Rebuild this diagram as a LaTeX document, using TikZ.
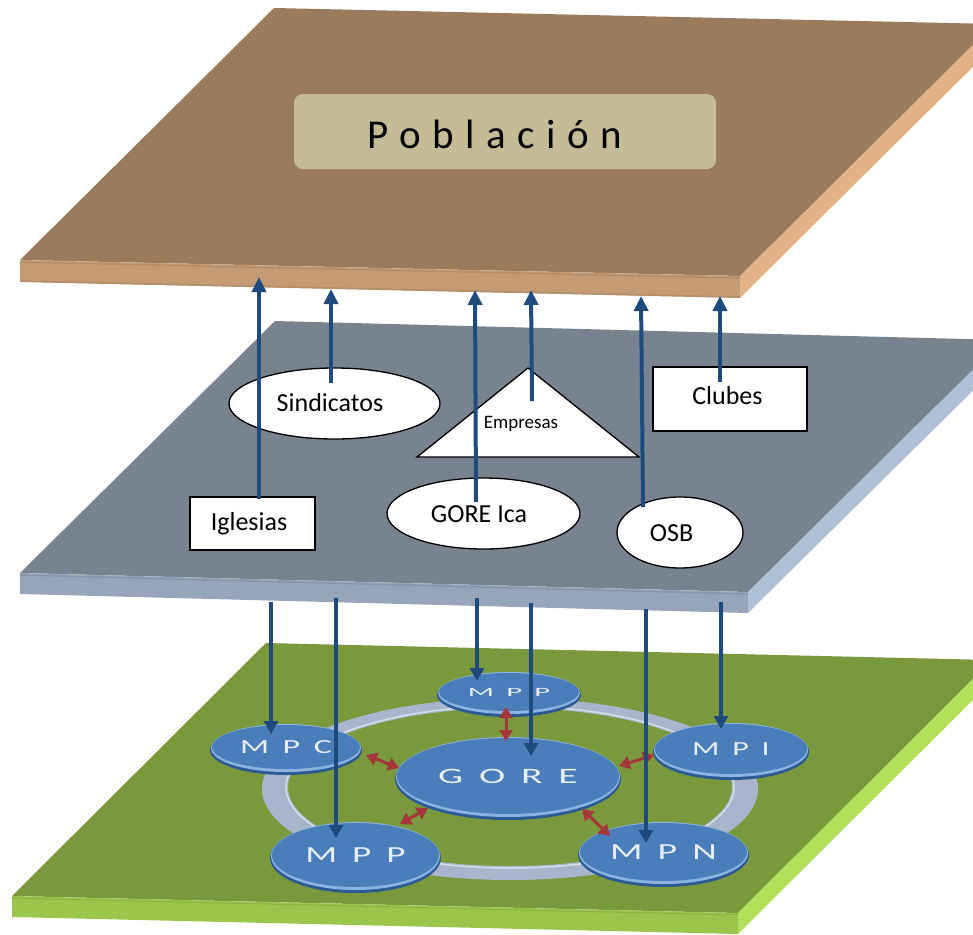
\documentclass[tikz,border=0pt]{standalone}
\usepackage{fontspec}
\usepackage{graphicx}
\setmainfont{Carlito}
\usetikzlibrary{shapes.geometric,arrows.meta}
\definecolor{brTop}{HTML}{9A7B5C}
\definecolor{brFront}{HTML}{C49B73}
\definecolor{brLine}{HTML}{B58D68}
\definecolor{brSide}{HTML}{E1B386}
\definecolor{poblFill}{HTML}{C4BC96}
\definecolor{slTop}{HTML}{77838F}
\definecolor{slFront}{HTML}{96A5BA}
\definecolor{slLine}{HTML}{8797AB}
\definecolor{slSide}{HTML}{AEBFD6}
\definecolor{grTop}{HTML}{7A993D}
\definecolor{grFront}{HTML}{9CC54C}
\definecolor{grLine}{HTML}{8DB545}
\definecolor{grSide}{HTML}{B1E05A}
\definecolor{ringCol}{HTML}{A8B5CD}
\definecolor{diskTop}{HTML}{4A7EBB}
\definecolor{diskRim}{HTML}{2C5A92}
\definecolor{diskHi}{HTML}{8DB3E2}
\definecolor{diskTxt}{HTML}{E8EDF4}
\definecolor{arrBlue}{HTML}{1F4A7E}
\definecolor{arrRed}{HTML}{A5363A}

\tikzset{
  disknode/.style={ellipse, fill=diskTop, inner sep=0pt, text=diskTxt},
  labelbox/.style={draw=black, line width=1.3pt, fill=white, inner sep=0pt, font=\fontsize{26}{26}\selectfont},
  labelell/.style={ellipse, draw=black, line width=1.3pt, fill=white, inner sep=0pt},
  labeltext/.style={font=\fontsize{26}{26}\selectfont, inner sep=0pt},
  uparr/.style={draw=arrBlue, line width=4pt, -{Triangle[length=15pt,width=14pt]}},
  downarr/.style={draw=arrBlue, line width=3.5pt, -{Triangle[length=13pt,width=14pt]}},
  redarr/.style={draw=arrRed, line width=3pt, {Triangle[length=11pt,width=13pt]}-{Triangle[length=11pt,width=13pt]}}
}

% #1 name, #2 x, #3 y, #4 rx, #5 ry, #6 text, #7 font size, #8 xscale, #9 yscale
\newcommand\diskdraw[9]{%
  \fill[diskRim] (#2,#3) ellipse [x radius=#4, y radius=#5];
  \fill[diskHi] (#2,#3-2) ellipse [x radius=#4-1, y radius=#5-1];
  \node[disknode, minimum width={(2*#4-4)*1pt}, minimum height={(2*#5-6)*1pt}] (#1) at (#2,#3-3)
    {\fontsize{#7}{#7}\selectfont\addfontfeature{LetterSpace=40}\scalebox{#8}[#9]{#6}};
}

\begin{document}
\begin{tikzpicture}[x=1pt,y=-1pt]
\path[use as bounding box] (0,0) rectangle (973,934);
\begin{scope}
\clip (0,0) rectangle (973,934);
% ---------- top plate (Poblacion) ----------
\fill[brTop] (274,8) -- (994,24) -- (740,276) -- (20,260) -- cycle;
\fill[brFront] (20,260) -- (740,276) -- (740,298) -- (20,282) -- cycle;
\draw[brLine, line width=1.5pt] (20,262) -- (740,278);
\draw[brLine, line width=1.5pt] (20,281) -- (740,297);
\fill[brSide] (740,276) -- (994,24) -- (994,46) -- (740,298) -- cycle;
% ---------- middle plate ----------
\fill[slTop] (275,321) -- (1003,340) -- (748,592) -- (20,573) -- cycle;
\fill[slFront] (20,573) -- (748,592) -- (748,613) -- (20,594) -- cycle;
\draw[slLine, line width=1.5pt] (20,575) -- (748,594);
\fill[slSide] (748,592) -- (1003,340) -- (1003,361) -- (748,613) -- cycle;
% ---------- bottom plate ----------
\fill[grTop] (266,643) -- (992,660) -- (738,913) -- (12,896) -- cycle;
\fill[grFront] (12,896) -- (738,913) -- (738,934) -- (12,917) -- cycle;
\draw[grLine, line width=1.2pt] (12,898) -- (738,915);
\fill[grSide] (738,913) -- (992,660) -- (992,681) -- (738,934) -- cycle;
\end{scope}

% ---------- Poblacion label ----------
\node[fill=poblFill, rounded corners=9pt, minimum width=422pt, minimum height=75pt, inner sep=0pt] (pobl) at (505,131.5) {};
\node[inner sep=0pt, font=\fontsize{41}{41}\selectfont] (poblt) at (495,134)
  {\addfontfeature{LetterSpace=28}Población};

% ---------- ring ----------
\fill[ringCol, even odd rule] (510,789) ellipse [x radius=248, y radius=91]
                              (510,787) ellipse [x radius=222, y radius=79];
\draw[white, opacity=0.55, line width=1.5pt] (510,787) ellipse [x radius=224, y radius=81];

% ---------- disks ----------
\diskdraw{mpptop}{509}{695}{72}{22}{MPP}{18}{1.7}{0.7}
\diskdraw{mpc}{286}{750}{76}{25}{MPC}{20}{1.7}{1}
\diskdraw{mpi}{731}{752}{78}{28}{MPI}{20}{1.6}{1}
\diskdraw{gore}{508}{779}{113}{41}{GORE}{22}{1.8}{1}
\diskdraw{mppbot}{355.5}{858}{85.5}{35}{MPP}{23}{1.62}{1}
\diskdraw{mpn}{663.5}{855}{85.5}{32}{MPN}{23}{1.65}{1}

% ---------- red double arrows ----------
\coordinate (r1a) at (506,707);  \coordinate (r1b) at (506,741);
\coordinate (r2a) at (366,755);  \coordinate (r2b) at (399,768);
\coordinate (r3a) at (619,766);  \coordinate (r3b) at (654,755);
\coordinate (r4a) at (400,824);  \coordinate (r4b) at (428,808);
\coordinate (r5a) at (582,809);  \coordinate (r5b) at (610,836);
\draw[redarr] (r1a) -- (r1b);
\draw[redarr] (r2a) -- (r2b);
\draw[redarr] (r3a) -- (r3b);
\draw[redarr] (r4a) -- (r4b);
\draw[redarr] (r5a) -- (r5b);

% ---------- down arrows (middle plate -> bottom disks) ----------
\coordinate (d1) at (271,602);  \coordinate (d1e) at (271,734);
\coordinate (d2) at (336,598);  \coordinate (d2e) at (336,838);
\coordinate (d3) at (477,598);  \coordinate (d3e) at (477,681);
\coordinate (d4) at (531,603);  \coordinate (d4e) at (531,756);
\coordinate (d5) at (646,609);  \coordinate (d5e) at (646,843);
\coordinate (d6) at (721,602);  \coordinate (d6e) at (721,729);
\draw[downarr] (d1) -- (d1e);
\draw[downarr] (d2) -- (d2e);
\draw[downarr] (d3) -- (d3e);
\draw[downarr] (d4) -- (d4e);
\draw[downarr] (d5) -- (d5e);
\draw[downarr] (d6) -- (d6e);

% ---------- middle plate shapes ----------
\node[labelell, minimum width=211pt, minimum height=71pt] (sind) at (334.5,403.5) {};
\node[labeltext] (sindt) at (330,403) {Sindicatos};
\draw[black, line width=1.3pt, fill=white] (528,368) -- (639,457) -- (417,457) -- cycle;
\node[inner sep=0pt, font=\fontsize{19}{19}\selectfont] (empresas) at (521,424) {Empresas};
\node[labelbox, minimum width=154pt, minimum height=64pt] (clubes) at (730,399) {};
\node[labeltext] (clubest) at (727.5,396) {Clubes};
\node[labelbox, minimum width=125pt, minimum height=53pt] (iglesias) at (252.5,523.5) {};
\node[labeltext] (iglesiast) at (249,524) {Iglesias};
\node[labelell, minimum width=193pt, minimum height=71pt] (goreica) at (483.5,513.5) {};
\node[labeltext] (goreicat) at (479,514) {GORE Ica};
\node[labelell, minimum width=126pt, minimum height=71pt] (osb) at (680,532.5) {};
\node[labeltext] (osbt) at (671.5,533) {OSB};

% ---------- up arrows (middle plate -> Poblacion) ----------
\coordinate (u1) at (259,499);  \coordinate (u1e) at (259,277);
\coordinate (u2) at (331,383);  \coordinate (u2e) at (331,289);
\coordinate (u3) at (476,502);  \coordinate (u3e) at (475,290);
\coordinate (u4) at (532,401);  \coordinate (u4e) at (531,290);
\coordinate (u5) at (643,507);  \coordinate (u5e) at (641,296);
\coordinate (u6) at (720,382);  \coordinate (u6e) at (720,296);
\draw[uparr] (u1) -- (u1e);
\draw[uparr] (u2) -- (u2e);
\draw[uparr] (u3) -- (u3e);
\draw[uparr] (u4) -- (u4e);
\draw[uparr] (u5) -- (u5e);
\draw[uparr] (u6) -- (u6e);
\end{tikzpicture}
\end{document}
